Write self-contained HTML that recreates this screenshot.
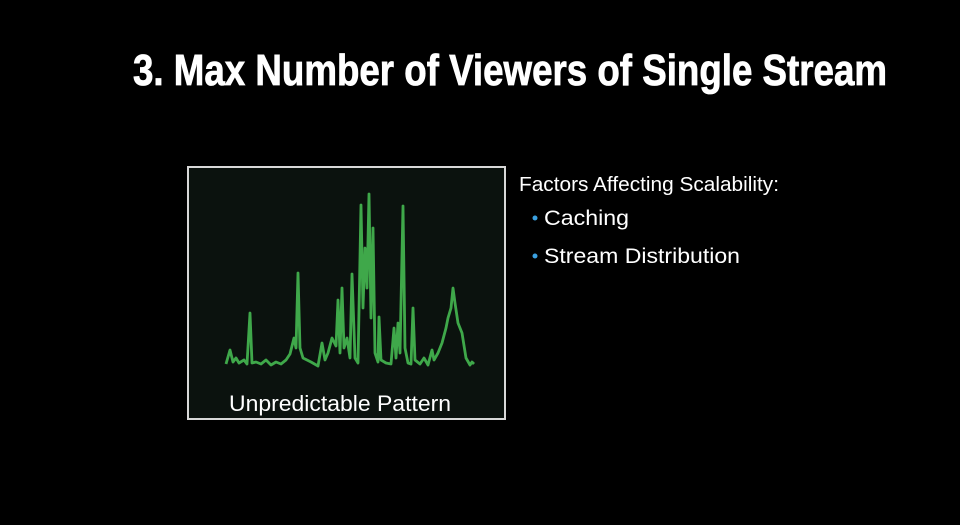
<!DOCTYPE html>
<html><head><meta charset="utf-8"><style>
html,body{margin:0;padding:0;background:#000;}
body{width:960px;height:525px;overflow:hidden;position:relative;font-family:"Liberation Sans",sans-serif;}
</style></head><body>
<svg width="960" height="525" viewBox="0 0 960 525" style="position:absolute;left:0;top:0">
<rect x="0" y="0" width="960" height="525" fill="#000"/>
<text x="133" y="85" font-family="Liberation Sans, sans-serif" font-weight="bold" font-size="44" fill="#fff" stroke="#fff" stroke-width="0.8" textLength="754" lengthAdjust="spacingAndGlyphs">3. Max Number of Viewers of Single Stream</text>
<rect x="188" y="167" width="317" height="252" fill="#0b120e" stroke="#d8d8d8" stroke-width="2"/>
<g id="plot"></g>
<text x="229" y="411" font-family="Liberation Sans, sans-serif" font-size="22" fill="#fff" textLength="222" lengthAdjust="spacingAndGlyphs">Unpredictable Pattern</text>
<text x="519" y="191" font-family="Liberation Sans, sans-serif" font-size="20.5" fill="#fff" textLength="260" lengthAdjust="spacingAndGlyphs">Factors Affecting Scalability:</text>
<circle cx="535" cy="218" r="2.5" fill="#3aa0e0"/>
<text x="544" y="225" font-family="Liberation Sans, sans-serif" font-size="21" fill="#fff" textLength="85" lengthAdjust="spacingAndGlyphs">Caching</text>
<circle cx="535" cy="256" r="2.5" fill="#3aa0e0"/>
<text x="544" y="263" font-family="Liberation Sans, sans-serif" font-size="21" fill="#fff" textLength="196" lengthAdjust="spacingAndGlyphs">Stream Distribution</text>
</svg>
<script>
const times=[0,4,7,10,13,18,21,24,26,30,35,40,45,50,55,60,64,68,70,72,74,77,85,92,96,99,102,106,110,112,114,116,118,121,124,126,129,132,135,137,139,141,143,145,147,149,152,153,155,160,165,168,170,172,174,177,179,182,185,187,189,194,198,202,206,208,212,216,220,222,225,227,229,232,236,240,244,246,248];
const viewers=[4,18,6,10,5,8,4,55,5,6,4,8,3,6,4,8,14,30,20,95,20,10,6,2,25,8,15,30,22,68,15,80,20,30,10,94,10,5,163,60,120,80,174,50,140,15,6,51,8,5,4,40,10,45,15,162,20,5,4,60,8,4,10,3,18,8,15,25,40,50,60,80,65,45,35,10,3,6,4];
function xs(t){return 226+t;}
function ys(v){return 368-v;}
const g=document.getElementById('plot');
const p=document.createElementNS('http://www.w3.org/2000/svg','path');
let d='';
for(let i=0;i<times.length;i++){d+=(i?'L':'M')+xs(times[i])+','+ys(viewers[i]);}
p.setAttribute('d',d);
p.setAttribute('fill','none');
p.setAttribute('stroke','#3fa84a');
p.setAttribute('stroke-width','2.8');
p.setAttribute('stroke-linejoin','round');


g.appendChild(p);
</script>
</body></html>
